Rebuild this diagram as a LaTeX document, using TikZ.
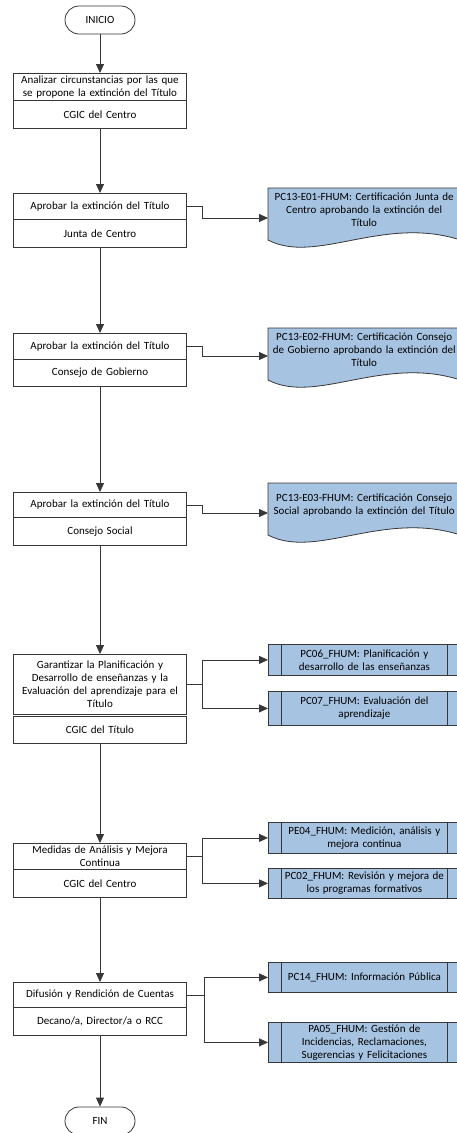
\documentclass[tikz,border=0pt]{standalone}
\usepackage{fontspec}
\setmainfont{Carlito}
\usetikzlibrary{arrows.meta,calc,backgrounds}

\definecolor{docblue}{RGB}{166,195,225}
\definecolor{edge}{RGB}{55,55,55}

\tikzset{
  every node/.style={font=\fontsize{11}{13}\selectfont},
  term/.style={draw=edge, line width=0.8pt, rounded corners=14pt, minimum width=70pt, minimum height=28pt, inner sep=0pt},
  act/.style={draw=edge, line width=0.8pt, anchor=north, minimum width=173pt, text width=167pt, align=center, inner xsep=3pt, inner ysep=0pt},
  doc/.style={anchor=north west, minimum width=192pt, minimum height=44pt, text width=186pt, align=center, inner sep=3pt},
  docshape/.style={draw=edge, fill=docblue, line width=0.8pt},
  proc/.style={draw=edge, fill=docblue, line width=0.8pt, anchor=north west, minimum width=192pt, text width=164pt, align=center, inner xsep=14pt, inner ysep=0pt},
  flow/.style={draw=edge, line width=0.8pt, -{Triangle[length=9pt,width=8pt]}},
}

\begin{document}
\begin{tikzpicture}[x=1pt,y=-1pt]
\useasboundingbox (0,0) rectangle (456,1133);

\node[term] (start) at (100,20) {INICIO};

\node[act, minimum height=27pt] (b1) at (100,73) {Analizar circunstancias por las que\\se propone la extinción del Título};
\node[act, minimum height=28pt] (b1r) at (100,100) {CGIC del Centro};

\node[act, minimum height=26pt] (b2) at (100,193) {Aprobar la extinción del Título};
\node[act, minimum height=28pt] (b2r) at (100,219) {Junta de Centro};

\node[act, minimum height=26pt] (b3) at (100,333) {Aprobar la extinción del Título};
\node[act, minimum height=27pt] (b3r) at (100,359) {Consejo de Gobierno};

\node[act, minimum height=25pt] (b4) at (100,492) {Aprobar la extinción del Título};
\node[act, minimum height=28pt] (b4r) at (100,517) {Consejo Social};

\node[act, minimum height=60pt] (b5) at (100,654) {Garantizar la Planificación y\\Desarrollo de enseñanzas y la\\Evaluación del aprendizaje para el\\Título};
\node[act, minimum height=27pt] (b5r) at (100,716) {CGIC del Título};

\node[act, minimum height=26pt] (b6) at (100,843) {Medidas de Análisis y Mejora\\Continua};
\node[act, minimum height=28pt] (b6r) at (100,869) {CGIC del Centro};

\node[act, minimum height=25pt] (b7) at (100,982) {Difusión y Rendición de Cuentas};
\node[act, minimum height=28pt] (b7r) at (100,1007) {Decano/a, Director/a o RCC};

\node[term] (fin) at (100,1121) {FIN};

% documentos
\node[doc] (d1) at (268,188) {PC13-E01-FHUM: Certificación Junta de\\Centro aprobando la extinción del\\Título};
\node[doc] (d2) at (268,328) {PC13-E02-FHUM: Certificación Consejo\\de Gobierno aprobando la extinción del\\Título};
\node[doc] (d3) at (268,483) {PC13-E03-FHUM: Certificación Consejo\\Social aprobando la extinción del Título};

\begin{scope}[on background layer]
\foreach \d in {d1,d2,d3}
{
\filldraw[docshape] (\d.north west) -- (\d.north east) -- ($(\d.north east)+(0,52)$)
  .. controls ($(\d.north west)+(115,27)$) and ($(\d.north west)+(48,77)$) .. ($(\d.north west)+(0,52)$) -- cycle;
}
\end{scope}

% procesos
\node[proc, minimum height=31pt] (p1) at (268,644) {PC06\_FHUM: Planificación y\\desarrollo de las enseñanzas};
\node[proc, minimum height=34pt] (p2) at (268,691) {PC07\_FHUM: Evaluación del\\aprendizaje};
\node[proc, minimum height=31pt] (p3) at (268,822) {PE04\_FHUM: Medición, análisis y\\mejora continua};
\node[proc, minimum height=30pt] (p4) at (268,868) {PC02\_FHUM: Revisión y mejora de\\los programas formativos};
\node[proc, minimum height=30pt] (p5) at (268,962) {PC14\_FHUM: Información Pública};
\node[proc, minimum height=40pt] (p6) at (268,1022) {PA05\_FHUM: Gestión de\\Incidencias, Reclamaciones,\\Sugerencias y Felicitaciones};

\foreach \p in {p1,p2,p3,p4,p5,p6}
{
\draw[edge, line width=0.8pt] ($(\p.north west)+(13,0)$) -- ($(\p.south west)+(13,0)$);
\draw[edge, line width=0.8pt] ($(\p.north east)+(-13,0)$) -- ($(\p.south east)+(-13,0)$);
}

% flujo principal
\foreach \a/\b in {start/b1,b1r/b2,b2r/b3,b3r/b4,b4r/b5,b5r/b6,b6r/b7,b7r/fin}
{
\draw[flow] (\a.south) -- (\b.north);
}

\draw[flow] (b2.east) -- ++(15,0) |- ($(d1.north west)+(0,30)$);
\draw[flow] (b3.east) -- ++(15,0) |- ($(d2.north west)+(0,28)$);
\draw[flow] (b4.east) -- ++(15,0) |- ($(d3.north west)+(0,30)$);

\foreach \p in {p1,p2}
\draw[flow] (b5.east) -- ++(15,0) |- (\p.west);
\foreach \p in {p3,p4}
\draw[flow] (b6.east) -- ++(15,0) |- (\p.west);
\foreach \p in {p5,p6}
\draw[flow] (b7.east) -- ++(17,0) |- (\p.west);

\end{tikzpicture}
\end{document}
